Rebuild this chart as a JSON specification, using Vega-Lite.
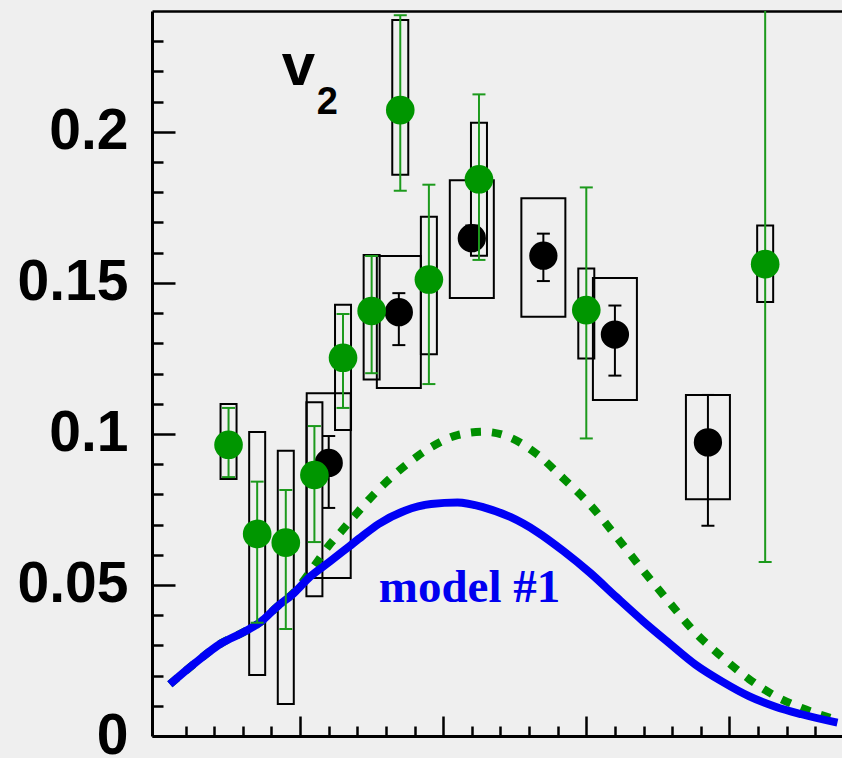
{
  "$schema": "https://vega.github.io/schema/vega-lite/v6.json",
  "autosize": {"type": "none"},
  "padding": {"left": 152, "top": 11, "right": 0, "bottom": 22},
  "width": 690,
  "height": 725,
  "background": "#efefef",
  "config": {"view": {"stroke": null}},
  "datasets": {
    "black": [
      {"x": 1.2, "v": 0.0904, "elo": 0.0755, "ehi": 0.0993, "slo": 0.0523, "shi": 0.1135},
      {"x": 1.69, "v": 0.1403, "elo": 0.1294, "ehi": 0.1466, "slo": 0.1152, "shi": 0.1589},
      {"x": 2.2, "v": 0.1648, "elo": 0.161, "ehi": 0.169, "slo": 0.145, "shi": 0.184},
      {"x": 2.7, "v": 0.159, "elo": 0.1506, "ehi": 0.1663, "slo": 0.1388, "shi": 0.178},
      {"x": 3.2, "v": 0.1329, "elo": 0.1193, "ehi": 0.1425, "slo": 0.1112, "shi": 0.1516},
      {"x": 3.85, "v": 0.0972, "elo": 0.0696, "ehi": 0.1129, "slo": 0.0784, "shi": 0.1129}
    ],
    "green": [
      {"x": 0.5, "v": 0.0964, "elo": 0.0857, "ehi": 0.1086, "slo": 0.0851, "shi": 0.1099},
      {"x": 0.7, "v": 0.0669, "elo": 0.0375, "ehi": 0.0842, "slo": 0.0202, "shi": 0.1006},
      {"x": 0.9, "v": 0.064, "elo": 0.0354, "ehi": 0.0814, "slo": 0.0106, "shi": 0.0944},
      {"x": 1.1, "v": 0.0864, "elo": 0.0642, "ehi": 0.1026, "slo": 0.0463, "shi": 0.1105},
      {"x": 1.3, "v": 0.1252, "elo": 0.1086, "ehi": 0.1397, "slo": 0.1013, "shi": 0.1428},
      {"x": 1.5, "v": 0.1407, "elo": 0.1201, "ehi": 0.1589, "slo": 0.118, "shi": 0.1592},
      {"x": 1.7, "v": 0.2072, "elo": 0.1805, "ehi": 0.2386, "slo": 0.1858, "shi": 0.237},
      {"x": 1.9, "v": 0.1511, "elo": 0.1165, "ehi": 0.1825, "slo": 0.1264, "shi": 0.1719},
      {"x": 2.25, "v": 0.1843, "elo": 0.1576, "ehi": 0.2124, "slo": 0.159, "shi": 0.203},
      {"x": 3.0, "v": 0.141, "elo": 0.0985, "ehi": 0.1816, "slo": 0.125, "shi": 0.1548},
      {"x": 4.25, "v": 0.1562, "elo": 0.0576, "ehi": 0.26, "slo": 0.1437, "shi": 0.169}
    ],
    "model1": [
      {"x": 0.09, "v": 0.0171},
      {"x": 0.265, "v": 0.0241},
      {"x": 0.449, "v": 0.0307},
      {"x": 0.61, "v": 0.0345},
      {"x": 0.725, "v": 0.0378},
      {"x": 0.839, "v": 0.0428},
      {"x": 0.954, "v": 0.0472},
      {"x": 1.069, "v": 0.0527},
      {"x": 1.207, "v": 0.0577},
      {"x": 1.344, "v": 0.0628},
      {"x": 1.436, "v": 0.0662},
      {"x": 1.546, "v": 0.0701},
      {"x": 1.732, "v": 0.0746},
      {"x": 1.915, "v": 0.0768},
      {"x": 2.1, "v": 0.0773},
      {"x": 2.283, "v": 0.0757},
      {"x": 2.469, "v": 0.0725},
      {"x": 2.655, "v": 0.0676},
      {"x": 2.841, "v": 0.0612},
      {"x": 3.027, "v": 0.054},
      {"x": 3.21, "v": 0.046},
      {"x": 3.395, "v": 0.0381},
      {"x": 3.578, "v": 0.0308},
      {"x": 3.764, "v": 0.0236},
      {"x": 3.95, "v": 0.018},
      {"x": 4.136, "v": 0.0132},
      {"x": 4.322, "v": 0.0097},
      {"x": 4.505, "v": 0.0072},
      {"x": 4.755, "v": 0.0044}
    ],
    "model2": [
      {"x": 0.09, "v": 0.0171},
      {"x": 0.265, "v": 0.0241},
      {"x": 0.449, "v": 0.0307},
      {"x": 0.61, "v": 0.0345},
      {"x": 0.725, "v": 0.0378},
      {"x": 0.839, "v": 0.0428},
      {"x": 0.954, "v": 0.0474},
      {"x": 1.103, "v": 0.0566},
      {"x": 1.2, "v": 0.063},
      {"x": 1.291, "v": 0.0679},
      {"x": 1.383, "v": 0.073},
      {"x": 1.546, "v": 0.0815},
      {"x": 1.732, "v": 0.0894},
      {"x": 1.915, "v": 0.0956},
      {"x": 2.1, "v": 0.0996},
      {"x": 2.283, "v": 0.1007},
      {"x": 2.469, "v": 0.0988},
      {"x": 2.655, "v": 0.0933},
      {"x": 2.841, "v": 0.0852},
      {"x": 3.027, "v": 0.0765},
      {"x": 3.21, "v": 0.066},
      {"x": 3.395, "v": 0.0549},
      {"x": 3.578, "v": 0.0444},
      {"x": 3.764, "v": 0.0341},
      {"x": 3.95, "v": 0.0261},
      {"x": 4.136, "v": 0.0189},
      {"x": 4.322, "v": 0.0132},
      {"x": 4.505, "v": 0.0093},
      {"x": 4.755, "v": 0.0053}
    ]
  },
  "resolve": {"axis": {"x": "independent", "y": "independent"}},
  "layer": [
    {
      "data": {"name": "black"},
      "mark": {"type": "bar", "orient": "vertical", "size": 44, "fillOpacity": 0, "stroke": "black", "strokeWidth": 2},
      "encoding": {
        "x": {"field": "x", "type": "quantitative",
          "scale": {"domain": [0, 4.752], "nice": false, "zero": false},
          "axis": {"orient": "bottom", "values": [1, 2, 3, 4], "labels": false, "title": null, "grid": false,
            "tickSize": -20, "tickWidth": 2.5, "tickColor": "black", "domain": true, "domainWidth": 3, "domainColor": "black"}},
        "y": {"field": "slo", "type": "quantitative",
          "scale": {"domain": [0, 0.24], "nice": false, "zero": false},
          "axis": {"orient": "left", "values": [0, 0.05, 0.1, 0.15, 0.2], "format": "~g", "title": null, "grid": false,
            "tickSize": -23, "tickWidth": 2.5, "tickColor": "black", "domain": true, "domainWidth": 3, "domainColor": "black",
            "labelFont": "Liberation Sans", "labelFontWeight": "bold", "labelFontSize": 57, "labelColor": "black",
            "labelPadding": 47, "labelOverlap": false, "labelFlush": false, "labelBound": false}},
        "y2": {"field": "shi"}
      }
    },
    {
      "data": {"name": "green"},
      "mark": {"type": "bar", "orient": "vertical", "size": 16, "fillOpacity": 0, "stroke": "black", "strokeWidth": 2},
      "encoding": {
        "x": {"field": "x", "type": "quantitative",
          "axis": {"orient": "bottom", "values": [0.2, 0.4, 0.6, 0.8, 1.2, 1.4, 1.6, 1.8, 2.2, 2.4, 2.6, 2.8, 3.2, 3.4, 3.6, 3.8, 4.2, 4.4, 4.6],
            "labels": false, "title": null, "grid": false, "domain": false, "tickSize": -10, "tickWidth": 2.5, "tickColor": "black"}},
        "y": {"field": "slo", "type": "quantitative",
          "axis": {"orient": "left", "values": [0.01, 0.02, 0.03, 0.04, 0.06, 0.07, 0.08, 0.09, 0.11, 0.12, 0.13, 0.14, 0.16, 0.17, 0.18, 0.19, 0.21, 0.22, 0.23],
            "labels": false, "title": null, "grid": false, "domain": false, "tickSize": -11, "tickWidth": 2.5, "tickColor": "black"}},
        "y2": {"field": "shi"}
      }
    },
    {
      "data": {"name": "model2"},
      "mark": {"type": "line", "color": "#008f00", "strokeWidth": 8, "strokeDash": [10, 11], "interpolate": "monotone", "clip": true},
      "encoding": {
        "x": {"field": "x", "type": "quantitative",
          "axis": {"orient": "top", "labels": false, "ticks": false, "title": null, "grid": false, "domain": true, "domainWidth": 2.5, "domainColor": "black"}},
        "y": {"field": "v", "type": "quantitative", "axis": null}
      }
    },
    {
      "data": {"name": "model1"},
      "mark": {"type": "line", "color": "#0000f5", "strokeWidth": 8, "interpolate": "monotone", "clip": true},
      "encoding": {
        "x": {"field": "x", "type": "quantitative", "axis": null},
        "y": {"field": "v", "type": "quantitative", "axis": null}
      }
    },
    {
      "data": {"name": "black"},
      "mark": {"type": "rule", "color": "black", "strokeWidth": 2},
      "encoding": {
        "x": {"field": "x", "type": "quantitative", "axis": null},
        "y": {"field": "elo", "type": "quantitative", "axis": null},
        "y2": {"field": "ehi"}
      }
    },
    {
      "data": {"name": "black"},
      "mark": {"type": "tick", "orient": "horizontal", "size": 13, "thickness": 2, "color": "black", "opacity": 1},
      "encoding": {
        "x": {"field": "x", "type": "quantitative", "axis": null},
        "y": {"field": "elo", "type": "quantitative", "axis": null}
      }
    },
    {
      "data": {"name": "black"},
      "mark": {"type": "tick", "orient": "horizontal", "size": 13, "thickness": 2, "color": "black", "opacity": 1},
      "encoding": {
        "x": {"field": "x", "type": "quantitative", "axis": null},
        "y": {"field": "ehi", "type": "quantitative", "axis": null}
      }
    },
    {
      "data": {"name": "black"},
      "mark": {"type": "circle", "size": 800, "color": "black", "opacity": 1},
      "encoding": {
        "x": {"field": "x", "type": "quantitative", "axis": null},
        "y": {"field": "v", "type": "quantitative", "axis": null}
      }
    },
    {
      "data": {"name": "green"},
      "mark": {"type": "rule", "color": "#1c9a1c", "strokeWidth": 2, "clip": true},
      "encoding": {
        "x": {"field": "x", "type": "quantitative", "axis": null},
        "y": {"field": "elo", "type": "quantitative", "axis": null},
        "y2": {"field": "ehi"}
      }
    },
    {
      "data": {"name": "green"},
      "mark": {"type": "tick", "orient": "horizontal", "size": 13, "thickness": 2, "color": "#1c9a1c", "opacity": 1, "clip": true},
      "encoding": {
        "x": {"field": "x", "type": "quantitative", "axis": null},
        "y": {"field": "elo", "type": "quantitative", "axis": null}
      }
    },
    {
      "data": {"name": "green"},
      "mark": {"type": "tick", "orient": "horizontal", "size": 13, "thickness": 2, "color": "#1c9a1c", "opacity": 1, "clip": true},
      "encoding": {
        "x": {"field": "x", "type": "quantitative", "axis": null},
        "y": {"field": "ehi", "type": "quantitative", "axis": null}
      }
    },
    {
      "data": {"name": "green"},
      "mark": {"type": "circle", "size": 820, "color": "#009600", "opacity": 1},
      "encoding": {
        "x": {"field": "x", "type": "quantitative", "axis": null},
        "y": {"field": "v", "type": "quantitative", "axis": null}
      }
    },
    {
      "data": {"values": [{"x": 0.872, "v": 0.2155, "label": "v"}]},
      "mark": {"type": "text", "font": "Liberation Sans", "fontWeight": "bold", "fontSize": 60, "align": "left", "baseline": "alphabetic", "color": "black"},
      "encoding": {
        "x": {"field": "x", "type": "quantitative", "axis": null},
        "y": {"field": "v", "type": "quantitative", "axis": null},
        "text": {"field": "label"}
      }
    },
    {
      "data": {"values": [{"x": 1.117, "v": 0.2059, "label": "2"}]},
      "mark": {"type": "text", "font": "Liberation Sans", "fontWeight": "bold", "fontSize": 38, "align": "left", "baseline": "alphabetic", "color": "black"},
      "encoding": {
        "x": {"field": "x", "type": "quantitative", "axis": null},
        "y": {"field": "v", "type": "quantitative", "axis": null},
        "text": {"field": "label"}
      }
    },
    {
      "data": {"values": [{"x": 1.55, "v": 0.0444, "label": "model #1"}]},
      "mark": {"type": "text", "font": "Liberation Serif", "fontWeight": "bold", "fontSize": 47, "align": "left", "baseline": "alphabetic", "color": "#0000f0"},
      "encoding": {
        "x": {"field": "x", "type": "quantitative", "axis": null},
        "y": {"field": "v", "type": "quantitative", "axis": null},
        "text": {"field": "label"}
      }
    }
  ]
}
